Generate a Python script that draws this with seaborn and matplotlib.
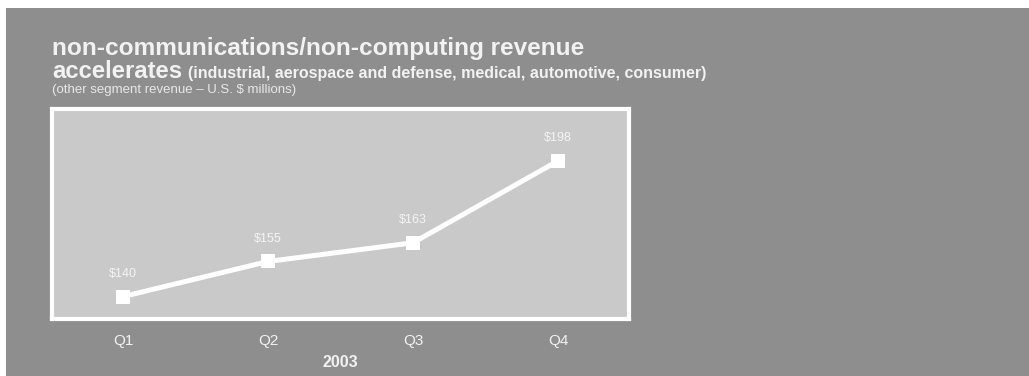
import matplotlib
matplotlib.use("Agg")
import matplotlib.pyplot as plt
import seaborn as sns
import pandas as pd
from matplotlib.patches import Rectangle

quarters = ["Q1", "Q2", "Q3", "Q4"]
revenue = [140, 155, 163, 198]
value_labels = ["$140", "$155", "$163", "$198"]
year_label = "2003"
title_line1 = "non-communications/non-computing revenue"
title_line2a = "accelerates"
title_line2b = "(industrial, aerospace and defense, medical, automotive, consumer)"
subtitle = "(other segment revenue \u2013 U.S. $ millions)"

sns.set_theme(style="white")
plt.rcParams['font.family'] = ['Liberation Sans', 'DejaVu Sans']

W, H = 1029, 376
fig = plt.figure(figsize=(W / 100, H / 100), dpi=100, facecolor="white")
BG = "#8e8e8e"
fig.patches.append(Rectangle((6 / W, 0), 1 - 6 / W, 1 - 8 / H, transform=fig.transFigure,
                             facecolor=BG, edgecolor="none", zorder=-10))

ax = fig.add_axes([52 / W, 1 - 319 / H, (629 - 52) / W, (319 - 109) / H])
ax.set_facecolor("#c9c9c9")

df = pd.DataFrame({"quarter": quarters, "revenue": revenue})
sns.lineplot(data=df, x="quarter", y="revenue", ax=ax, color="white", linewidth=3.6,
             marker="s", markersize=10, markeredgewidth=0, sort=False)

for i, (v, lab) in enumerate(zip(revenue, value_labels)):
    ax.annotate(lab, (i, v), xytext=(0, 12), textcoords="offset points",
                ha="center", va="bottom", color="#f4f4f4", fontsize=9)

ax.set_xlim(-0.49, 3.49)
ax.set_ylim(130.4, 220.2)
ax.set_yticks([])
ax.tick_params(axis="x", length=0, pad=10.5, labelsize=11, labelcolor="#f2f2f2")
ax.set_xlabel(year_label, fontsize=11.5, fontweight="bold", color="#f2f2f2", labelpad=5)
ax.set_ylabel("")
for s in ax.spines.values():
    s.set_color("white")
    s.set_linewidth(3)
    s.set_visible(True)

tc = "#f2f2f2"
fig.text(52 / W, 1 - 55 / H, title_line1, fontsize=17.6, fontweight="bold", color=tc, va="baseline")
t2 = fig.text(52 / W, 1 - 78 / H, title_line2a, fontsize=17.2, fontweight="bold", color=tc, va="baseline")
fig.canvas.draw()
bb = t2.get_window_extent()
fig.text((bb.x1 + 6) / W, 1 - 78 / H, title_line2b, fontsize=11.5, fontweight="bold", color=tc, va="baseline")
fig.text(52 / W, 1 - 93 / H, subtitle, fontsize=9.5, color="#e8e8e8", va="baseline")

fig.savefig("out.png", dpi=100, facecolor=fig.get_facecolor())
